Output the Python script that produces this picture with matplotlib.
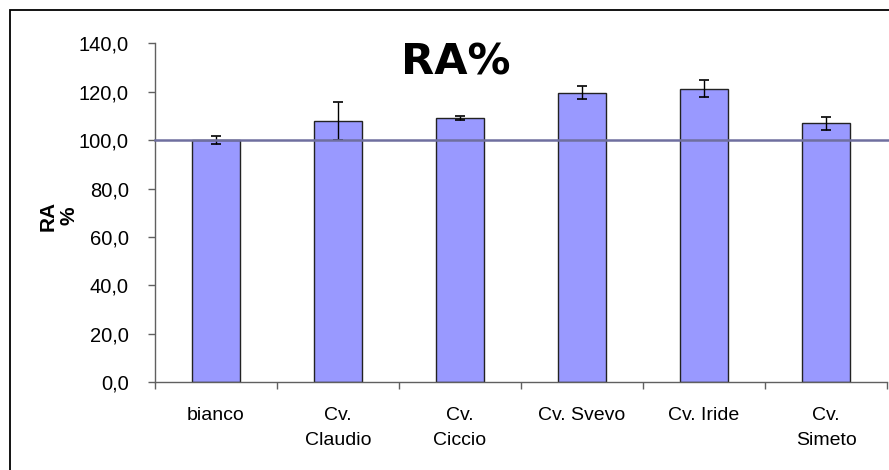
import numpy as np
import matplotlib
matplotlib.use("Agg")
import matplotlib.pyplot as plt
from matplotlib.patches import Rectangle
from matplotlib.ticker import FixedLocator, FuncFormatter

# RA% per treatment, with standard deviation
categories = ["bianco", "Cv.\nClaudio", "Cv.\nCiccio", "Cv. Svevo", "Cv. Iride", "Cv.\nSimeto"]
ra_values = [100.0, 107.9, 109.1, 119.6, 121.3, 106.9]
ra_errors = [1.6, 8.0, 0.9, 2.6, 3.4, 2.7]
reference_level = 100.0

plt.rcParams['font.family'] = ['Liberation Sans', 'DejaVu Sans']

fig = plt.figure(figsize=(8.89, 4.70), dpi=100)
ax = fig.add_axes([0.1744, 0.1866, 0.8234, 0.7213])

x = np.arange(len(categories))
ax.bar(x, ra_values, width=0.4, color='#9999FF', edgecolor='#222222', linewidth=1.0, zorder=2)
ax.errorbar(x, ra_values, yerr=ra_errors, fmt='none', ecolor='black',
            elinewidth=1.0, capsize=3.5, capthick=1.2, zorder=3)

# control level line across the plot
ax.axhline(reference_level, xmin=0, xmax=1.01, color='#6F6F9F', linewidth=1.8,
           clip_on=False, zorder=4)

ax.set_xlim(-0.5, len(categories) - 0.5)
ax.set_ylim(0, 140)
ax.set_yticks(np.arange(0, 141, 20))
ax.yaxis.set_major_formatter(FuncFormatter(lambda v, p: f"{v:.1f}".replace('.', ',')))

ax.set_xticks(x)
ax.set_xticklabels(categories, fontsize=14, linespacing=1.6)
ax.xaxis.set_minor_locator(FixedLocator(np.arange(-0.5, len(categories), 1.0)))
ax.tick_params(axis='x', which='major', length=0, pad=18)
ax.tick_params(axis='x', which='minor', length=5, width=1, color='#606060', direction='out')
ax.tick_params(axis='y', length=5, width=1, color='#606060', direction='out',
               labelsize=14.5, pad=14)

for side in ('top', 'right'):
    ax.spines[side].set_visible(False)
for side in ('left', 'bottom'):
    ax.spines[side].set_color('#606060')
    ax.spines[side].set_linewidth(1.0)

ax.set_ylabel("RA\n%", fontsize=15, fontweight='bold', linespacing=1.1)
ax.yaxis.set_label_coords(-0.105, 0.49)

fig.text(0.513, 0.866, "RA%", fontsize=31, fontweight='bold', family='DejaVu Sans',
         ha='center', va='center')

# frame around the chart area
fig.patches.append(Rectangle((10 / 889, -0.05), 1.1, 1 - 10 / 470 + 0.05,
                             transform=fig.transFigure, fill=False,
                             edgecolor='black', linewidth=1.3, zorder=0))

fig.savefig("out.png", dpi=100, facecolor='white')
